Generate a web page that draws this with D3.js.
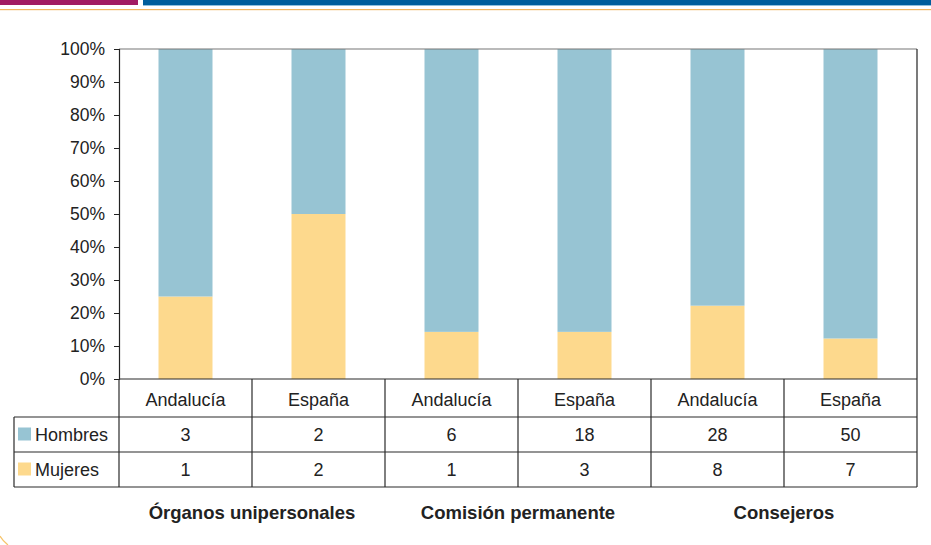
<!DOCTYPE html>
<html>
<head>
<meta charset="utf-8">
<script src="https://cdn.jsdelivr.net/npm/d3@7"></script>
<style>
  body { margin: 0; background: #fff; }
  svg text { font-family: "Liberation Sans", Arial, sans-serif; fill: #222; }
</style>
</head>
<body>
<div id="chart"></div>
<script>
// Data
var places = ['Andalucía', 'España', 'Andalucía', 'España', 'Andalucía', 'España'];
var groups = ['Órganos unipersonales', 'Comisión permanente', 'Consejeros'];
var hombres = [3, 2, 6, 18, 28, 50];
var mujeres = [1, 2, 1, 3, 8, 7];
var seriesNames = ['Hombres', 'Mujeres'];
var seriesColors = ['#97c4d3', '#fdd98d'];
var yTicks = [0, 0.1, 0.2, 0.3, 0.4, 0.5, 0.6, 0.7, 0.8, 0.9, 1];

var width = 931, height = 545;
var margins = { top: 49, right: 14, bottom: 166, left: 119 };
var chartWidth = width - margins.left - margins.right;
var chartHeight = height - margins.top - margins.bottom;

var svg = d3.select('#chart').append('svg')
    .attr('width', width)
    .attr('height', height);

// header strips
svg.append('rect').attr('x', 0).attr('y', 0).attr('width', 138).attr('height', 5).attr('fill', '#a11b62');
svg.append('rect').attr('x', 143).attr('y', 0).attr('width', width - 143).attr('height', 5).attr('fill', '#005e9c');
svg.append('rect').attr('x', 143).attr('y', 5).attr('width', width - 143).attr('height', 1).attr('fill', '#8fc0de');
svg.append('rect').attr('x', 0).attr('y', 9).attr('width', width).attr('height', 1.2).attr('fill', '#f1b661');
// corner decoration
svg.append('path').attr('d', 'M0,536 Q3,541 8,545').attr('fill', 'none')
    .attr('stroke', '#f6c46a').attr('stroke-width', 1.2);

var chart = svg.append('g')
    .attr('transform', 'translate(' + margins.left + ',' + margins.top + ')');

var idx = d3.range(places.length);
var x = d3.scaleBand().domain(idx).range([0, chartWidth]).paddingInner(0.594).paddingOuter(0.297);
var colX = d3.scaleBand().domain(idx).range([0, chartWidth]);
var y = d3.scaleLinear().domain([0, 1]).range([chartHeight, 0]);

// stacked shares
var rows = idx.map(function(i) {
    var t = hombres[i] + mujeres[i];
    return { i: i, Mujeres: mujeres[i] / t, Hombres: hombres[i] / t };
});
var stack = d3.stack().keys(['Mujeres', 'Hombres']);
var layers = stack(rows);

chart.selectAll('g.layer')
    .data(layers)
    .enter().append('g')
    .attr('class', 'layer')
    .attr('fill', function(d) { return seriesColors[seriesNames.indexOf(d.key)]; })
    .selectAll('rect')
    .data(function(d) { return d; })
    .enter().append('rect')
    .attr('x', function(d) { return x(d.data.i); })
    .attr('width', x.bandwidth())
    .attr('y', function(d) { return y(d[1]); })
    .attr('height', function(d) { return y(d[0]) - y(d[1]); });

// plot frame (top and right)
chart.append('line').attr('x1', 0).attr('x2', chartWidth).attr('y1', 0).attr('y2', 0)
    .attr('stroke', '#777').attr('stroke-width', 1.2);
chart.append('line').attr('x1', chartWidth).attr('x2', chartWidth).attr('y1', 0).attr('y2', chartHeight)
    .attr('stroke', '#222').attr('stroke-width', 1.2);

// y axis
var yAxis = d3.axisLeft(y).tickValues(yTicks).tickFormat(d3.format('.0%')).tickSize(5).tickPadding(9);
var yg = chart.append('g').call(yAxis);
yg.select('.domain').attr('stroke', '#222').attr('stroke-width', 1.2);
yg.selectAll('.tick line').attr('stroke', '#222');
yg.selectAll('text').style('font-size', '17.5px').attr('fill', '#222');

// data table
var rowTop = chartHeight;
var catH = 38, rowH = 35;
var tableLeft = 14 - margins.left;
var tbl = chart.append('g').attr('class', 'table');
var lineCol = '#2a2a2a';

// horizontal lines
[rowTop, rowTop + catH, rowTop + catH + rowH, rowTop + catH + 2 * rowH].forEach(function(yy, k) {
    tbl.append('line')
        .attr('x1', k === 0 ? 0 : tableLeft).attr('x2', chartWidth)
        .attr('y1', yy).attr('y2', yy)
        .attr('stroke', lineCol).attr('stroke-width', 1.2);
});
// vertical lines
idx.concat([places.length]).forEach(function(i) {
    var xx = i < places.length ? colX(i) : chartWidth;
    tbl.append('line')
        .attr('x1', xx).attr('x2', xx)
        .attr('y1', rowTop).attr('y2', rowTop + catH + 2 * rowH)
        .attr('stroke', lineCol).attr('stroke-width', 1.2);
});
tbl.append('line')
    .attr('x1', tableLeft).attr('x2', tableLeft)
    .attr('y1', rowTop + catH).attr('y2', rowTop + catH + 2 * rowH)
    .attr('stroke', lineCol).attr('stroke-width', 1.2);

// category labels
tbl.selectAll('text.cat')
    .data(idx)
    .enter().append('text')
    .attr('class', 'cat')
    .attr('x', function(i) { return colX(i) + colX.bandwidth() / 2; })
    .attr('y', rowTop + catH / 2 + 8)
    .attr('text-anchor', 'middle')
    .style('font-size', '18px')
    .text(function(i) { return places[i]; });

// value rows
[hombres, mujeres].forEach(function(vals, r) {
    var cy = rowTop + catH + r * rowH + rowH / 2;
    tbl.append('rect')
        .attr('x', tableLeft + 4).attr('y', cy - 7)
        .attr('width', 13).attr('height', 13)
        .attr('fill', seriesColors[r]);
    tbl.append('text')
        .attr('x', tableLeft + 21).attr('y', cy + 6.5)
        .style('font-size', '18px')
        .text(seriesNames[r]);
    tbl.selectAll('text.v' + r)
        .data(vals)
        .enter().append('text')
        .attr('class', 'v' + r)
        .attr('x', function(d, i) { return colX(i) + colX.bandwidth() / 2; })
        .attr('y', cy + 6.5)
        .attr('text-anchor', 'middle')
        .style('font-size', '18px')
        .text(function(d) { return d; });
});

// group labels
chart.selectAll('text.group')
    .data(groups)
    .enter().append('text')
    .attr('class', 'group')
    .attr('x', function(d, g) { return colX(g * 2 + 1); })
    .attr('y', rowTop + catH + 2 * rowH + 32)
    .attr('text-anchor', 'middle')
    .style('font-size', '18.5px')
    .style('font-weight', 'bold')
    .text(function(d) { return d; });
</script>
</body>
</html>
